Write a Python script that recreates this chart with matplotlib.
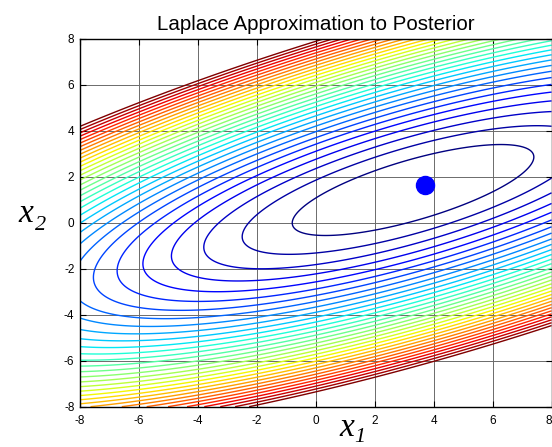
import numpy as np
import matplotlib.pyplot as plt

plt.rcParams['font.family'] = ['Liberation Sans', 'DejaVu Sans']
plt.rcParams['axes.unicode_minus'] = False

# Gaussian (Laplace) approximation: mean and covariance (scaled so one
# contour step = one unit of squared Mahalanobis distance)
post_mean = np.array([3.3, 1.42])
post_cov = np.array([[16.8, 5.88],
                     [5.88, 3.91]])
contour_levels = np.arange(1, 33)

# MAP estimate
w_map = np.array([3.7, 1.64])

ticks = np.arange(-8, 9, 2)

# grid over the weight space
w1, w2 = np.meshgrid(np.linspace(-8, 8, 401), np.linspace(-8, 8, 401))
d = np.stack([w1 - post_mean[0], w2 - post_mean[1]], axis=-1)
P = np.linalg.inv(post_cov)
Z = np.einsum('...i,ij,...j->...', d, P, d)

fig = plt.figure(figsize=(5.52, 4.47), dpi=100)
ax = fig.add_axes([0.1449, 0.0902, 0.8543, 0.8233])

ax.contour(w1, w2, Z, levels=contour_levels, cmap='jet', linewidths=1.0)
ax.plot(w_map[0], w_map[1], 'o', color='blue', markersize=13)

ax.set_xlim(-8, 8)
ax.set_ylim(-8, 8)
ax.set_xticks(ticks)
ax.set_yticks(ticks)
ax.tick_params(direction='in', top=True, right=True, length=4, width=0.8,
               labelsize=8.5)
ax.tick_params(axis='x', pad=6)
ax.tick_params(axis='y', pad=4)
# last x label sits on the figure edge
ax.get_xticklabels()[-1].set_horizontalalignment('right')
ax.grid(True, color='0.42', linewidth=0.7)
ax.set_axisbelow(True)
for s in ax.spines.values():
    s.set_linewidth(1.0)

ax.set_title('Laplace Approximation to Posterior', fontsize=14.8, pad=6)

# axis labels: italic x with italic subscript digit
lab = dict(family='Liberation Serif', style='italic')
fig.text(0.614, 0.024, 'x', fontsize=24, ha='left', va='baseline', **lab)
fig.text(0.641, 0.011, '1', fontsize=16, ha='left', va='baseline', **lab)
fig.text(0.0326, 0.5034, 'x', fontsize=24, ha='left', va='baseline', **lab)
fig.text(0.0634, 0.4855, '2', fontsize=16, ha='left', va='baseline', **lab)

fig.savefig('out.png', dpi=100)
